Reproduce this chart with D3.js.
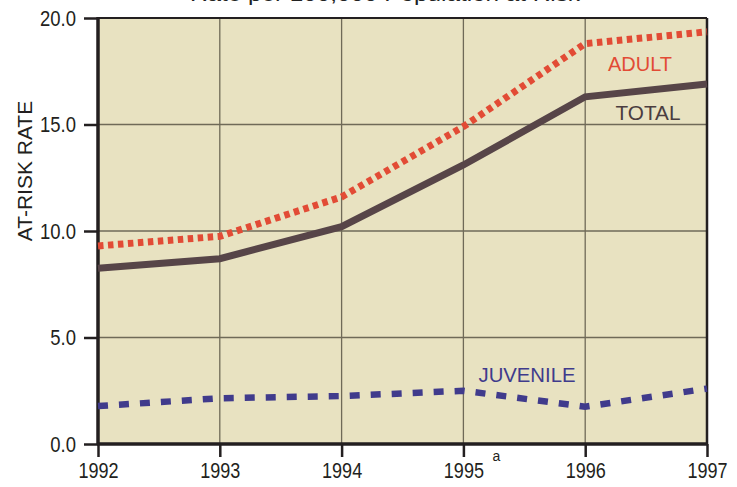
<!DOCTYPE html>
<html><head><meta charset="utf-8">
<script src="https://cdn.jsdelivr.net/npm/d3@7"></script>
<style>body{margin:0;background:#fff}svg{display:block}</style>
</head><body>
<script>
const years = [1992, 1993, 1994, 1995, 1996, 1997];
const total = [8.25, 8.7, 10.2, 13.1, 16.3, 16.9];
const adult = [9.3, 9.75, 11.6, 14.9, 18.8, 19.35];
const juvenile = [1.78, 2.15, 2.25, 2.5, 1.75, 2.6];
const yTicks = [0, 5, 10, 15, 20];
const yTickLabels = ["0.0", "5.0", "10.0", "15.0", "20.0"];
const xTickLabels = ["1992", "1993", "1994", "1995", "1996", "1997"];

const W = 737, H = 487;
const svg = d3.select("body").append("svg").attr("width", W).attr("height", H);
const x = d3.scaleLinear().domain([1992, 1997]).range([98, 707]);
const y = d3.scaleLinear().domain([0, 20]).range([444, 18]);
const sans = "'Liberation Sans',Arial,sans-serif";

function condense(sel, f) {
  sel.each(function () {
    const L = this.getComputedTextLength();
    this.setAttribute("textLength", L * f);
    this.setAttribute("lengthAdjust", "spacingAndGlyphs");
  });
}

// title (cut off at top, as in the reference)
svg.append("text").attr("x", 385).attr("y", 1).attr("text-anchor", "middle")
  .attr("font-family", sans).attr("font-size", 21).attr("fill", "#222")
  .attr("textLength", 390).attr("lengthAdjust", "spacingAndGlyphs")
  .text("Rate per 100,000 Population at Risk");

// plot background
svg.append("rect").attr("x", x(1992)).attr("y", y(20))
  .attr("width", x(1997) - x(1992)).attr("height", y(0) - y(20)).attr("fill", "#e8e2c1");

// grid
const g = svg.append("g");
g.selectAll(".hg").data(yTicks.slice(1, 4)).join("line")
  .attr("x1", x(1992)).attr("x2", x(1997)).attr("y1", d => y(d)).attr("y2", d => y(d))
  .attr("stroke", "#6f6a58").attr("stroke-width", 1.3);
g.selectAll(".vg").data(years.slice(1, 5)).join("line")
  .attr("y1", y(0)).attr("y2", y(20)).attr("x1", d => x(d)).attr("x2", d => x(d))
  .attr("stroke", "#6f6a58").attr("stroke-width", 1.3);

// axes
const yAxis = d3.axisLeft(y).tickValues(yTicks).tickSize(14).tickPadding(8)
  .tickFormat((d, i) => yTickLabels[i]);
const ya = svg.append("g").attr("transform", `translate(${x(1992)},0)`).call(yAxis);
ya.select(".domain").remove();
ya.selectAll(".tick line").attr("stroke", "#231f20").attr("stroke-width", 2.5);
ya.selectAll(".tick text").attr("font-family", sans).attr("font-size", 22).attr("fill", "#231f20")
  .call(condense, 0.84);

const xAxis = d3.axisBottom(x).tickValues(years).tickSize(13).tickPadding(5)
  .tickFormat((d, i) => xTickLabels[i]);
const xa = svg.append("g").attr("transform", `translate(0,${y(0)})`).call(xAxis);
xa.select(".domain").remove();
xa.selectAll(".tick line").attr("stroke", "#231f20").attr("stroke-width", 2.5);
xa.selectAll(".tick text").attr("font-family", sans).attr("font-size", 22).attr("fill", "#231f20")
  .call(condense, 0.82);

// frame
svg.append("line").attr("x1", x(1992)).attr("x2", x(1997)).attr("y1", y(20)).attr("y2", y(20))
  .attr("stroke", "#231f20").attr("stroke-width", 2);
svg.append("line").attr("x1", x(1997)).attr("x2", x(1997)).attr("y1", y(20)).attr("y2", y(0))
  .attr("stroke", "#231f20").attr("stroke-width", 2.5);
svg.append("line").attr("x1", x(1992)).attr("x2", x(1992)).attr("y1", y(20) - 1).attr("y2", y(0) + 1)
  .attr("stroke", "#231f20").attr("stroke-width", 3.5);
svg.append("line").attr("x1", x(1992) - 1).attr("x2", x(1997) + 1).attr("y1", y(0)).attr("y2", y(0))
  .attr("stroke", "#231f20").attr("stroke-width", 3.5);

// superscript a
svg.append("text").attr("x", x(1995) + 33).attr("y", 461).attr("text-anchor", "middle")
  .attr("font-family", sans).attr("font-size", 14).attr("fill", "#231f20").text("a");

// y title
svg.append("text").attr("transform", "translate(32,171) rotate(-90)").attr("text-anchor", "middle")
  .attr("font-family", sans).attr("font-size", 21).attr("fill", "#231f20").text("AT-RISK RATE");

// lines
const line = vals => d3.line().x((d, i) => x(years[i])).y(d => y(d))(vals);
svg.append("path").attr("d", line(total)).attr("fill", "none")
  .attr("stroke", "#574548").attr("stroke-width", 7);
svg.append("path").attr("d", line(adult)).attr("fill", "none")
  .attr("stroke", "#e24b35").attr("stroke-width", 7).attr("stroke-dasharray", "5.5,4.5");
svg.append("path").attr("d", line(juvenile)).attr("fill", "none")
  .attr("stroke", "#403b8c").attr("stroke-width", 6.5).attr("stroke-dasharray", "10,11");

// series labels
const lab = (t, cx, by, c, len) => svg.append("text").attr("x", cx).attr("y", by).attr("text-anchor", "middle")
  .attr("font-family", sans).attr("font-size", 21).attr("fill", c)
  .attr("textLength", len).attr("lengthAdjust", "spacingAndGlyphs").text(t);
lab("ADULT", 640, 71, "#e24b35", 64);
lab("TOTAL", 648, 120, "#4a3d40", 65);
lab("JUVENILE", 527, 382, "#403b8c", 97);
</script>
</body></html>
